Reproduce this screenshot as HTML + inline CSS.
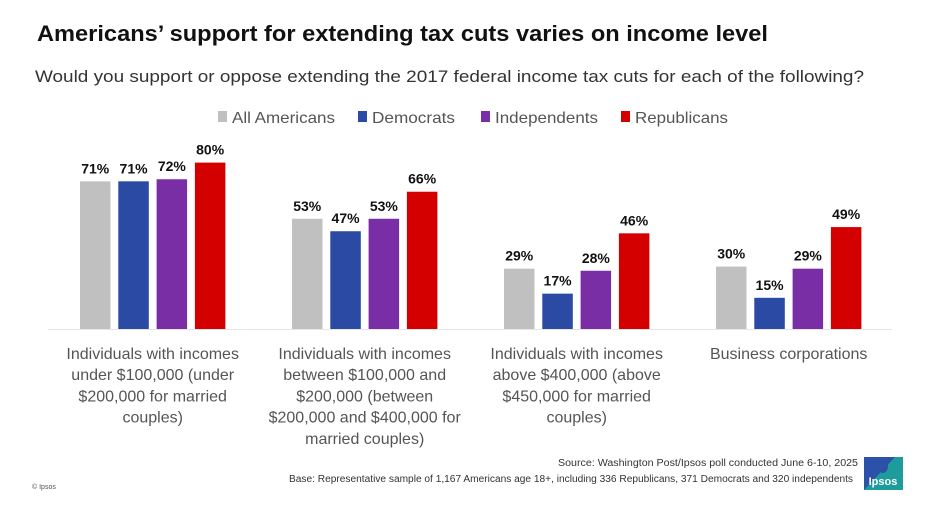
<!DOCTYPE html>
<html><head><meta charset="utf-8"><style>
html,body{margin:0;padding:0;background:#fff;}
svg{display:block;font-family:"Liberation Sans",sans-serif;}
</style></head><body>
<svg id="chart" width="939" height="509" viewBox="0 0 939 509">
<text x="37" y="41" font-size="22" font-weight="bold" fill="#111" textLength="731" lengthAdjust="spacingAndGlyphs">Americans’ support for extending tax cuts varies on income level</text>
<text x="35" y="82" font-size="17" fill="#333" textLength="829" lengthAdjust="spacingAndGlyphs">Would you support or oppose extending the 2017 federal income tax cuts for each of the following?</text>
<g id="legend"></g>
<line x1="48" y1="329.5" x2="892" y2="329.5" stroke="#e6e6e6" stroke-width="1"/>
<g id="bars"></g>
<g id="cats"></g>
<text x="858" y="466" font-size="10" fill="#333" text-anchor="end" textLength="300" lengthAdjust="spacingAndGlyphs">Source: Washington Post/Ipsos poll conducted June 6-10, 2025</text>
<text x="853" y="482" font-size="10" fill="#333" text-anchor="end" textLength="564" lengthAdjust="spacingAndGlyphs">Base: Representative sample of 1,167 Americans age 18+, including 336 Republicans, 371 Democrats and 320 independents</text>
<text x="32" y="489" font-size="7" fill="#555">© Ipsos</text>
<g>
<rect x="864" y="457" width="39" height="33" fill="#1e9c9c"/>
<polygon points="864,457 895,457 864,490" fill="#2b52a8"/>
<ellipse cx="883" cy="466" rx="5" ry="7" fill="#2b52a8"/>
<text x="883" y="485" font-size="11" font-weight="bold" fill="#fff" text-anchor="middle">Ipsos</text>
</g>
</svg>
<script>
const categories = [
 ["Individuals with incomes","under $100,000 (under","$200,000 for married","couples)"],
 ["Individuals with incomes","between $100,000 and","$200,000 (between","$200,000 and $400,000 for","married couples)"],
 ["Individuals with incomes","above $400,000 (above","$450,000 for married","couples)"],
 ["Business corporations"]
];
const seriesNames = ["All Americans","Democrats","Independents","Republicans"];
const allAmericans = [71,53,29,30];
const democrats = [71,47,17,15];
const independents = [72,53,28,29];
const republicans = [80,66,46,49];
const series = [allAmericans, democrats, independents, republicans];
const colors = ["#c0c0c0","#2a4aa3","#7a2ea6","#d40000"];

const NS="http://www.w3.org/2000/svg";
const baseY=329, pxPer=2.08, group0=80, groupStep=212, barStep=38.3, barW=30.5;
function yScale(v){return baseY - v*pxPer;}
function xScale(g,s){return group0 + g*groupStep + s*barStep;}
function mk(tag,attrs,parent){const e=document.createElementNS(NS,tag);for(const k in attrs)e.setAttribute(k,attrs[k]);parent.appendChild(e);return e;}

const bars=document.getElementById('bars');
series.forEach((vals,s)=>{
 vals.forEach((v,g)=>{
  const x=xScale(g,s), y=yScale(v);
  const r=mk('rect',{x:x,y:y,width:barW,height:baseY-y,fill:colors[s]},bars);
  
  
  const t=mk('text',{x:x+barW/2,y:y-8,'font-size':14,'font-weight':'bold',fill:'#111','text-anchor':'middle'},bars);
  t.textContent=v+'%';
  
  
 });
});

const cats=document.getElementById('cats');
categories.forEach((lines,g)=>{
 const cx=xScale(g,0)+(3*barStep+barW)/2;
 lines.forEach((ln,i)=>{
  const t=mk('text',{x:cx,y:359+i*21.2,'font-size':16,fill:'#555','text-anchor':'middle'},cats);
  t.textContent=ln;
  
  
 });
});

const legend=document.getElementById('legend');
const legX=[218,358,481,621], legW=[103,83,103,93];
seriesNames.forEach((n,i)=>{
 const sq=mk('rect',{x:legX[i],y:111,width:9,height:11,fill:colors[i]},legend);
 
 
 const t=mk('text',{x:legX[i]+14,y:123,'font-size':16,fill:'#555',textLength:legW[i],lengthAdjust:'spacingAndGlyphs'},legend);
 t.textContent=n;
 
 
});
</script>
</body></html>
